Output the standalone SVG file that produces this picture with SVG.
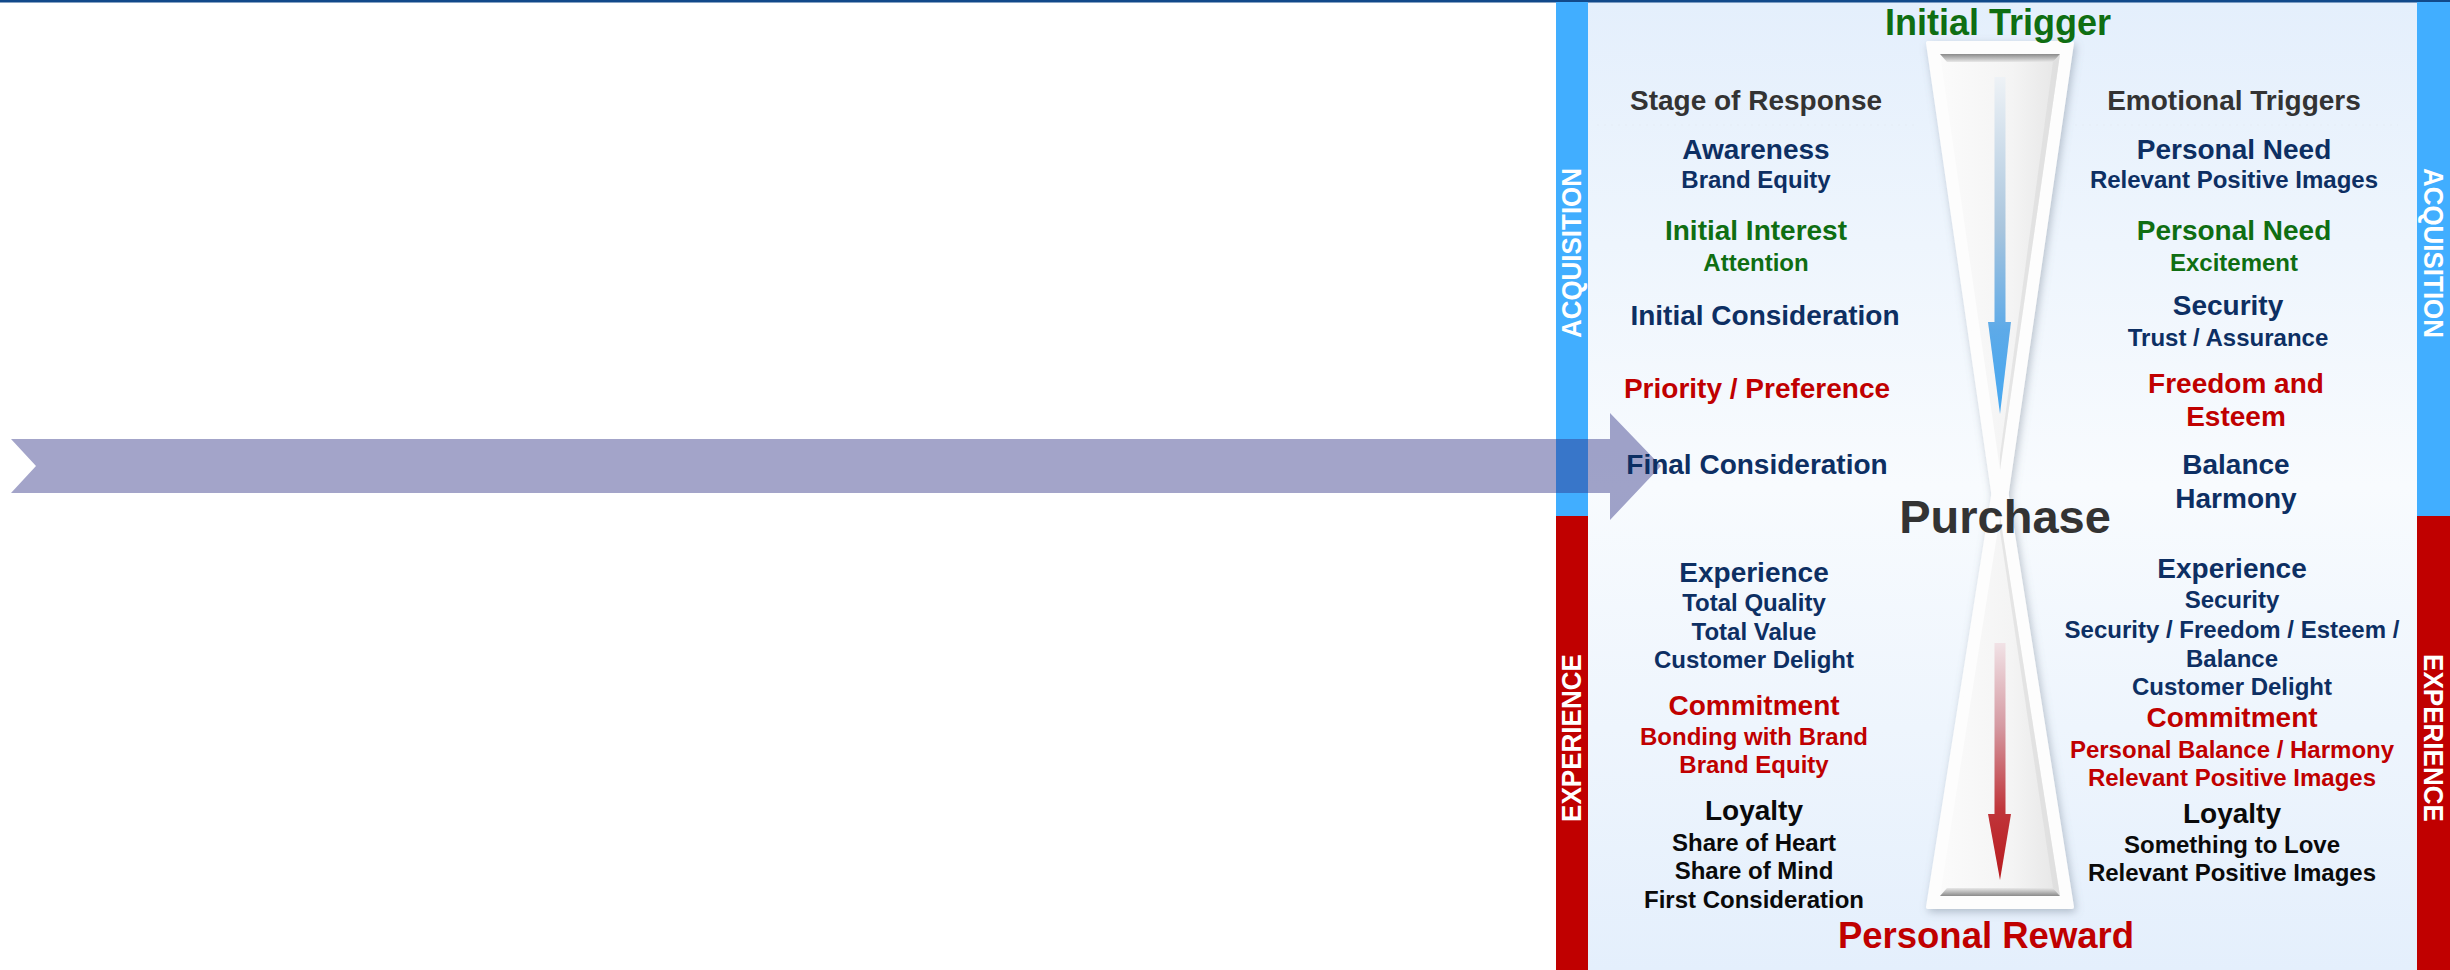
<svg xmlns="http://www.w3.org/2000/svg" width="2450" height="970" viewBox="0 0 2450 970">
  <defs>
    <style>
      text { font-family: "Liberation Sans", Arial, sans-serif; font-weight: bold; text-anchor: middle; }
      .hd { font-size: 28px; fill: #333333; }
      .m { font-size: 28px; }
      .s { font-size: 24px; }
      .navy { fill: #0D2F63; }
      .green { fill: #0F6E12; }
      .red { fill: #C00000; }
      .black { fill: #0A0A0A; }
      .bar { font-size: 28px; fill: #FFFFFF; }
      .rule { stroke: #E6EEF7; stroke-width: 1.5; stroke-dasharray: 2 5; }
    </style>
    <linearGradient id="panelBg" x1="0" y1="0" x2="0" y2="1">
      <stop offset="0" stop-color="#E4EFFC"/>
      <stop offset="0.5" stop-color="#F8FBFE"/>
      <stop offset="1" stop-color="#E4EFFC"/>
    </linearGradient>
    <linearGradient id="glassFill" x1="0" y1="0" x2="1" y2="0">
      <stop offset="0" stop-color="#FBFBFB"/>
      <stop offset="0.6" stop-color="#F4F4F4"/>
      <stop offset="1" stop-color="#E6E6E6"/>
    </linearGradient>
    <linearGradient id="bevelTop" x1="0" y1="0" x2="0" y2="1">
      <stop offset="0" stop-color="#8A8A8A"/>
      <stop offset="1" stop-color="#E8E8E8"/>
    </linearGradient>
    <linearGradient id="bevelBottom" x1="0" y1="1" x2="0" y2="0">
      <stop offset="0" stop-color="#8A8A8A"/>
      <stop offset="1" stop-color="#E8E8E8"/>
    </linearGradient>
    <linearGradient id="blueFlow" gradientUnits="userSpaceOnUse" x1="0" y1="77" x2="0" y2="414">
      <stop offset="0" stop-color="#EEF2F6"/>
      <stop offset="0.45" stop-color="#A9C5DD"/>
      <stop offset="0.75" stop-color="#5DAAE8"/>
      <stop offset="1" stop-color="#45A8F2"/>
    </linearGradient>
    <linearGradient id="redFlow" gradientUnits="userSpaceOnUse" x1="0" y1="643" x2="0" y2="880">
      <stop offset="0" stop-color="#F1E2E6"/>
      <stop offset="0.35" stop-color="#D59AA2"/>
      <stop offset="0.7" stop-color="#C0363B"/>
      <stop offset="1" stop-color="#B81A1E"/>
    </linearGradient>
    <filter id="softShadow" x="-40%" y="-10%" width="180%" height="120%">
      <feDropShadow dx="2" dy="3" stdDeviation="4" flood-color="#6E7A8C" flood-opacity="0.45"/>
    </filter>
  </defs>

  <!-- page -->
  <rect x="0" y="0" width="2450" height="970" fill="#FFFFFF"/>
  <rect id="panel" x="1588" y="2" width="829" height="968" fill="url(#panelBg)"/>
  <rect x="0" y="0" width="2450" height="2.5" fill="#11498A"/>

  <!-- side bands -->
  <g id="band-left">
    <rect x="1556" y="2" width="32" height="514" fill="#41AEFF"/>
    <rect x="1556" y="516" width="32" height="454" fill="#C00000"/>
    <text class="bar" transform="translate(1581,253) rotate(-90)" textLength="170" lengthAdjust="spacingAndGlyphs">ACQUISITION</text>
    <text class="bar" transform="translate(1581,738) rotate(-90)" textLength="168" lengthAdjust="spacingAndGlyphs">EXPERIENCE</text>
  </g>
  <g id="band-right">
    <rect x="2417" y="2" width="33" height="514" fill="#41AEFF"/>
    <rect x="2417" y="516" width="33" height="454" fill="#C00000"/>
    <text class="bar" transform="translate(2424,253) rotate(90)" textLength="170" lengthAdjust="spacingAndGlyphs">ACQUISITION</text>
    <text class="bar" transform="translate(2424,738) rotate(90)" textLength="168" lengthAdjust="spacingAndGlyphs">EXPERIENCE</text>
  </g>

  <!-- hourglass -->
  <g id="hourglass">
    <g filter="url(#softShadow)">
      <polygon points="1928,43 2072,43 2000,540" fill="#FDFDFD" stroke="#FDFDFD" stroke-width="4" stroke-linejoin="round"/>
      <polygon points="1928,907 2072,907 2000,452" fill="#FDFDFD" stroke="#FDFDFD" stroke-width="4" stroke-linejoin="round"/>
    </g>
    <polygon points="1940,54 2060,54 2000,470" fill="url(#glassFill)"/>
    <polygon points="1940,54 2060,54 2053,62 1947,62" fill="url(#bevelTop)"/>
    <polygon points="2060,54 2000,470 2000,455 2053,62" fill="#DADADA" opacity="0.6"/>
    <polygon points="1940,896 2060,896 2000,516" fill="url(#glassFill)"/>
    <polygon points="1940,896 2060,896 2053,888 1947,888" fill="url(#bevelBottom)"/>
    <polygon points="2060,896 2000,516 2000,531 2053,888" fill="#DADADA" opacity="0.6"/>
  </g>

  <!-- connectors -->
  <g id="connectors">
    <g id="flow-down-top">
      <rect x="1994.5" y="77" width="11" height="246" fill="url(#blueFlow)"/>
      <polygon points="1988,322 2011,322 2000,414" fill="url(#blueFlow)"/>
    </g>
    <g id="flow-down-bottom">
      <rect x="1994.5" y="643" width="11" height="172" fill="url(#redFlow)"/>
      <polygon points="1988,814 2011,814 2000,880" fill="url(#redFlow)"/>
    </g>
    <polygon id="journey-arrow" points="11,439 1610,439 1610,413 1661,466 1610,520 1610,493 11,493 36,466" fill="#2D2F83" fill-opacity="0.44"/>
  </g>

  <!-- centre labels -->
  <g id="initial-trigger"><text x="1998" y="35" class="green" style="font-size:36px">Initial Trigger</text></g>
  <g id="purchase"><text x="2005" y="533" style="font-size:47px;fill:#333333">Purchase</text></g>
  <g id="personal-reward"><text x="1986" y="948" class="red" style="font-size:36.5px">Personal Reward</text></g>

  <!-- left column: stage of response -->
  <g id="stage-of-response">
    <text x="1756" y="110" class="hd">Stage of Response</text>
    <line x1="1597" y1="125" x2="1918" y2="125" class="rule"/>
  </g>
  <g id="awareness">
    <text x="1756" y="159" class="m navy">Awareness</text>
    <text x="1756" y="188" class="s navy">Brand Equity</text>
  </g>
  <g id="initial-interest">
    <text x="1756" y="240" class="m green">Initial Interest</text>
    <text x="1756" y="271" class="s green">Attention</text>
  </g>
  <g id="initial-consideration">
    <text x="1765" y="325" class="m navy">Initial Consideration</text>
  </g>
  <g id="priority-preference">
    <text x="1757" y="398" class="m red">Priority / Preference</text>
  </g>
  <g id="final-consideration">
    <text x="1757" y="474" class="m navy">Final Consideration</text>
  </g>
  <g id="experience-left">
    <text x="1754" y="582" class="m navy">Experience</text>
    <text x="1754" y="611" class="s navy">Total Quality</text>
    <text x="1754" y="640" class="s navy">Total Value</text>
    <text x="1754" y="668" class="s navy">Customer Delight</text>
  </g>
  <g id="commitment-left">
    <text x="1754" y="715" class="m red">Commitment</text>
    <text x="1754" y="745" class="s red">Bonding with Brand</text>
    <text x="1754" y="773" class="s red">Brand Equity</text>
  </g>
  <g id="loyalty-left">
    <text x="1754" y="820" class="m black">Loyalty</text>
    <text x="1754" y="851" class="s black">Share of Heart</text>
    <text x="1754" y="879" class="s black">Share of Mind</text>
    <text x="1754" y="908" class="s black">First Consideration</text>
  </g>

  <!-- right column: emotional triggers -->
  <g id="emotional-triggers">
    <text x="2234" y="110" class="hd">Emotional Triggers</text>
    <line x1="2075" y1="125" x2="2398" y2="125" class="rule"/>
  </g>
  <g id="personal-need-1">
    <text x="2234" y="159" class="m navy">Personal Need</text>
    <text x="2234" y="188" class="s navy">Relevant Positive Images</text>
  </g>
  <g id="personal-need-2">
    <text x="2234" y="240" class="m green">Personal Need</text>
    <text x="2234" y="271" class="s green">Excitement</text>
  </g>
  <g id="security">
    <text x="2228" y="315" class="m navy">Security</text>
    <text x="2228" y="346" class="s navy">Trust / Assurance</text>
  </g>
  <g id="freedom-esteem">
    <text x="2236" y="393" class="m red">Freedom and</text>
    <text x="2236" y="426" class="m red">Esteem</text>
  </g>
  <g id="balance-harmony">
    <text x="2236" y="474" class="m navy">Balance</text>
    <text x="2236" y="508" class="m navy">Harmony</text>
  </g>
  <g id="experience-right">
    <text x="2232" y="578" class="m navy">Experience</text>
    <text x="2232" y="608" class="s navy">Security</text>
    <text x="2232" y="638" class="s navy">Security / Freedom / Esteem /</text>
    <text x="2232" y="667" class="s navy">Balance</text>
    <text x="2232" y="695" class="s navy">Customer Delight</text>
  </g>
  <g id="commitment-right">
    <text x="2232" y="727" class="m red">Commitment</text>
    <text x="2232" y="758" class="s red">Personal Balance / Harmony</text>
    <text x="2232" y="786" class="s red">Relevant Positive Images</text>
  </g>
  <g id="loyalty-right">
    <text x="2232" y="823" class="m black">Loyalty</text>
    <text x="2232" y="853" class="s black">Something to Love</text>
    <text x="2232" y="881" class="s black">Relevant Positive Images</text>
  </g>
</svg>
